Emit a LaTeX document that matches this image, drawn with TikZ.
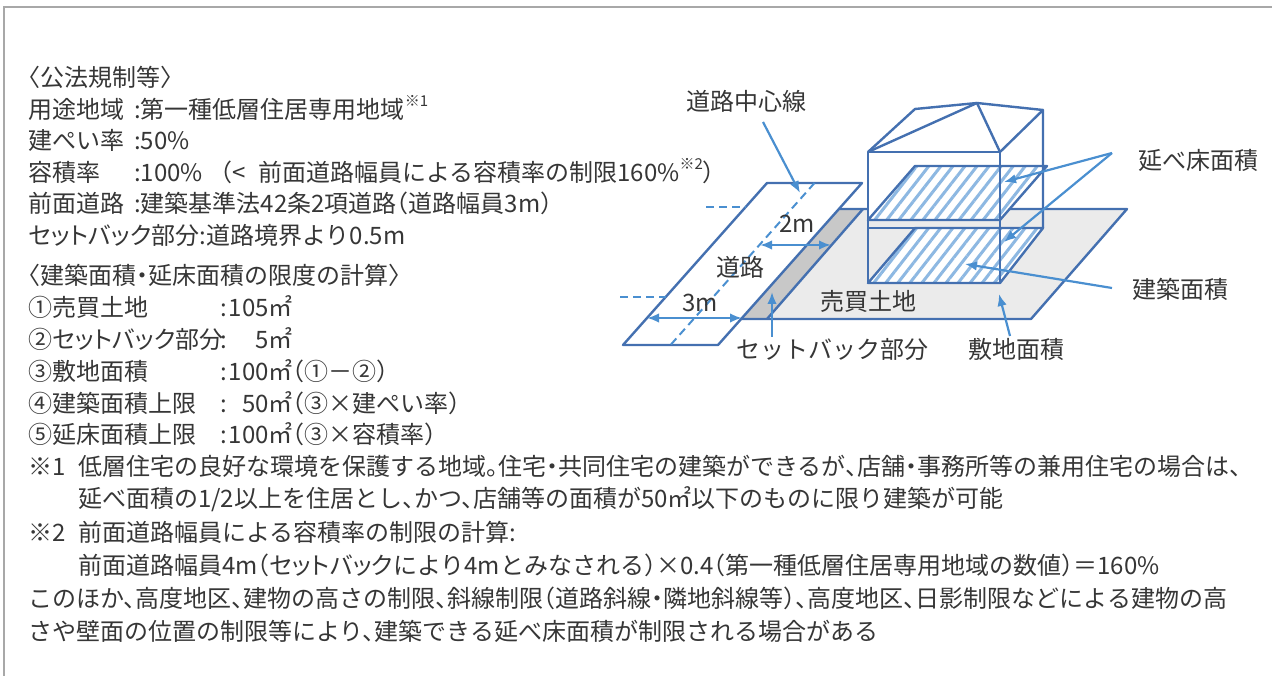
\documentclass[tikz,border=0pt]{standalone}
\usepackage{fontspec}
\setmainfont{Noto Sans CJK JP}[RawFeature=+halt]
\newfontfamily\propfont{Noto Sans CJK JP}[RawFeature=+palt]
\usetikzlibrary{patterns.meta,arrows.meta}

\definecolor{edgeblue}{HTML}{4470B0}
\definecolor{arrowblue}{HTML}{4A8FD0}
\definecolor{hatchblue}{HTML}{8DB8E2}
\definecolor{landgray}{HTML}{EBEBEB}
\definecolor{setbackgray}{HTML}{C8C8C8}
\definecolor{bordergray}{HTML}{A8A8A8}
\definecolor{textgray}{HTML}{363636}

\newcommand{\kome}[1]{\raisebox{0.5em}{\fontsize{15}{15}\selectfont ※#1}}

\begin{document}
\begin{tikzpicture}[x=1pt,y=-1pt]
  \tikzstyle{line} = [draw=edgeblue, line width=2.4pt, line join=round]
  \tikzstyle{arrow} = [draw=arrowblue, -{Latex[length=12pt,width=9.5pt]}, line width=2.2pt]
  \tikzstyle{dim} = [draw=arrowblue, {Latex[length=12pt,width=9.5pt]}-{Latex[length=12pt,width=9.5pt]}, line width=2.2pt]
  \tikzstyle{dashline} = [draw=arrowblue, line width=2pt, dash pattern=on 8pt off 5pt]
  \tikzstyle{plate} = [line, preaction={fill=white}, pattern={Lines[angle=52,distance=9.5pt,line width=3pt]}, pattern color=hatchblue]
  \tikzstyle{txt} = [anchor=west, inner sep=0pt, text=textgray, font=\fontsize{24}{24}\selectfont]
  \tikzstyle{lbl} = [inner sep=1pt, text=textgray, font=\fontsize{24}{24}\selectfont]

  \useasboundingbox (0,0) rectangle (1272,676);
  \draw[bordergray, line width=2pt] (1272,7) -- (4,7) -- (4,676);

  % text on the left
  \node[txt] (kouhou) at (28,77) {〈公法規制等〉};
  \node[txt] (youto) at (28,108) {\makebox[106pt][l]{用途地域}:第一種低層住居専用地域\kome{1}};
  \node[txt] (kenpei) at (28,140) {\makebox[106pt][l]{建ぺい率}:50\%};
  \node[txt] (youseki) at (28,171) {\makebox[106pt][l]{容積率}:100\%\hspace{18pt}（<\hspace{12pt}前面道路幅員による容積率の制限160\%\kome{2}）};
  \node[txt] (zenmen) at (28,203) {\makebox[106pt][l]{前面道路}:建築基準法42条2項道路（道路幅員3m）};
  \node[txt] (setback) at (28,235) {{\propfont セットバック}部分:道路境界より0.5m};

  \node[txt] (keisan) at (28,275) {〈建築面積・延床面積の限度の計算〉};
  \node[txt] (calc1) at (28,307) {\makebox[192pt][l]{①売買土地}:\makebox[42pt][r]{105}㎡};
  \node[txt] (calc2) at (28,339) {\makebox[192pt][l]{\propfont ②セットバック部分}:\makebox[42pt][r]{5}㎡};
  \node[txt] (calc3) at (28,371) {\makebox[192pt][l]{③敷地面積}:\makebox[42pt][r]{100}㎡（①－②）};
  \node[txt] (calc4) at (28,403) {\makebox[192pt][l]{④建築面積上限}:\makebox[42pt][r]{50}㎡（③×建ぺい率）};
  \node[txt] (calc5) at (28,434) {\makebox[192pt][l]{⑤延床面積上限}:\makebox[42pt][r]{100}㎡（③×容積率）};

  \node[txt] (note1a) at (28,466) {\makebox[50pt][l]{※1}低層住宅の良好な環境を保護する地域。住宅・共同住宅の建築ができるが、店舗・事務所等の兼用住宅の場合は、};
  \node[txt] (note1b) at (78,499) {延べ面積の1/2以上を住居とし、かつ、店舗等の面積が50㎡以下のものに限り建築が可能};
  \node[txt] (note2a) at (28,532) {\makebox[50pt][l]{※2}前面道路幅員による容積率の制限の計算:};
  \node[txt] (note2b) at (78,565) {前面道路幅員4m（{\propfont セットバック}により4mとみなされる）×0.4（第一種低層住居専用地域の数値）＝160\%};
  \node[txt] (other1) at (28,598) {このほか、高度地区、建物の高さの制限、斜線制限（道路斜線・隣地斜線等）、高度地区、日影制限などによる建物の高};
  \node[txt] (other2) at (28,631) {さや壁面の位置の制限等により、建築できる延べ床面積が制限される場合がある};

  % road and land
  \coordinate (rTL) at (767,183);
  \coordinate (rTR) at (862,183);
  \coordinate (rBR) at (718,345);
  \coordinate (rBL) at (623,345);
  \coordinate (lTL) at (839,209);
  \coordinate (sTR) at (863,209);
  \coordinate (lTR) at (1127,209);
  \coordinate (lBR) at (1031,319);
  \coordinate (sBR) at (767,319);
  \coordinate (lBL) at (741,319);

  \fill[landgray] (lTL) -- (lTR) -- (lBR) -- (lBL) -- cycle;
  \fill[setbackgray] (lTL) -- (sTR) -- (sBR) -- (lBL) -- cycle;
  \path[line] (lTL) -- (lTR) -- (lBR) -- (lBL);
  \path[line] (sTR) -- (sBR);
  \path[line] (rTL) -- (rTR) -- (rBR) -- (rBL) -- cycle;

  \coordinate (cTop) at (814.5,183);
  \coordinate (cBot) at (670.5,345);
  \coordinate (eA) at (706,207);
  \coordinate (eB) at (746,207);
  \coordinate (eC) at (620,297);
  \coordinate (eD) at (666,297);
  \path[dashline] (cTop) -- (cBot);
  \path[dashline] (eA) -- (eB);
  \path[dashline] (eC) -- (eD);

  % building
  \coordinate (fTL) at (868,152);
  \coordinate (fTR) at (1000,152);
  \coordinate (fBR) at (1000,283);
  \coordinate (fBL) at (868,283);
  \coordinate (bTR) at (1043,110);
  \coordinate (bMid) at (1043,166);
  \coordinate (bBR) at (1043,228);
  \coordinate (roofL) at (915,109);
  \coordinate (apex) at (977,103);
  \coordinate (uTL) at (915,166);
  \coordinate (uTR) at (1047,166);
  \coordinate (uBR) at (1000,220);
  \coordinate (uBL) at (868,220);
  \coordinate (dTL) at (915,228);
  \coordinate (mL) at (868,228);

  \fill[white] (fTL) -- (fTR) -- (bTR) -- (bMid) -- (uBR) -- (uBL) -- cycle;
  \path[plate] (uTL) -- (uTR) -- (uBR) -- (uBL) -- cycle;
  \path[plate] (dTL) -- (bBR) -- (fBR) -- (fBL) -- cycle;
  \path[line] (fTL) rectangle (fBR);
  \path[line] (fTR) -- (bTR) -- (bBR);
  \path[line] (mL) -- (dTL);
  \path[line] (fTL) -- (roofL) -- (apex) -- (bTR);
  \path[line] (fTL) -- (apex) -- (fTR);

  % labels
  \node[lbl] (center) at (746,101) {道路中心線};
  \node[lbl] (road) at (740,267) {道路};
  \node[lbl] (two) at (797,224) {2m};
  \node[lbl] (three) at (700,303) {3m};
  \node[lbl] (land) at (868,301) {売買土地};
  \node[lbl] (sbpart) at (832,349) {セットバック部分};
  \node[lbl] (site) at (1016,349) {敷地面積};
  \node[lbl] (floor) at (1198,160) {延べ床面積};
  \node[lbl] (build) at (1180,289) {建築面積};

  % arrows
  \coordinate (d2L) at (760,245);
  \coordinate (d2R) at (831,245);
  \coordinate (d3L) at (647,318);
  \coordinate (d3R) at (742,318);
  \path[dim] (d2L) -- (d2R);
  \path[dim] (d3L) -- (d3R);

  \coordinate (clTail) at (763,122);
  \coordinate (clTip) at (800,193);
  \coordinate (flTail) at (1112,153);
  \coordinate (flTip1) at (1004,182);
  \coordinate (flTip2) at (1004,242);
  \coordinate (buTail) at (1112,288);
  \coordinate (buTip) at (965,264);
  \coordinate (siTail) at (1010,336);
  \coordinate (siTip) at (999,294);
  \coordinate (sbTail) at (772,337);
  \coordinate (sbTip) at (772,292);

  \path[arrow] (clTail) -- (clTip);
  \path[arrow] (flTail) -- (flTip1);
  \path[arrow] (flTail) -- (flTip2);
  \path[arrow] (buTail) -- (buTip);
  \path[arrow] (siTail) -- (siTip);
  \path[arrow] (sbTail) -- (sbTip);

\end{tikzpicture}
\end{document}
